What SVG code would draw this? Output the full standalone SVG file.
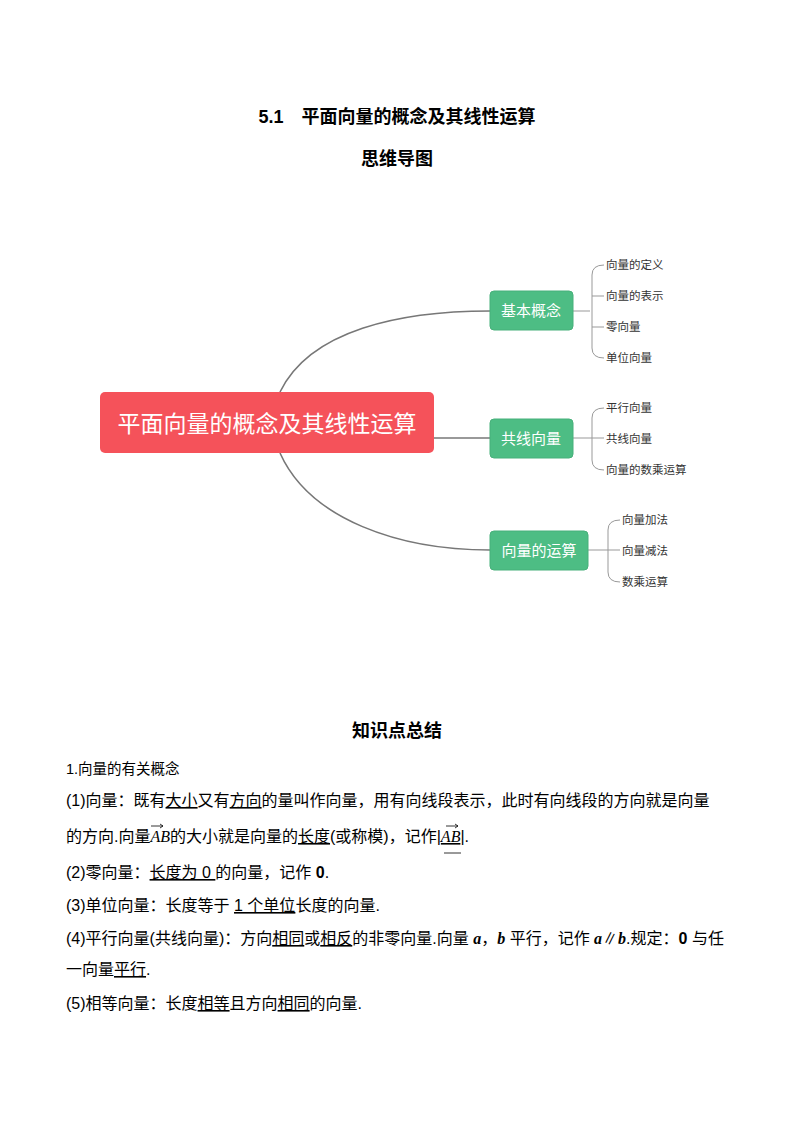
<svg xmlns="http://www.w3.org/2000/svg" width="794" height="1123" viewBox="0 0 794 1123">
<style>
.t{font-family:"Liberation Sans","Noto Sans CJK SC",sans-serif;fill:#000}
.h{font-weight:bold;font-size:18px}
.b{font-size:16px}
.leaf{font-family:"Noto Sans CJK SC",sans-serif;font-size:11.5px;fill:#333}
.g{fill:#4dbd84;stroke:#47b07a}
.gt{font-family:"Noto Sans CJK SC",sans-serif;font-size:15px;fill:#fff;text-anchor:middle}
.c{fill:none;stroke:#777;stroke-width:1.6}
.br{fill:none;stroke:#999;stroke-width:1}
.i{font-family:"Liberation Serif",serif;font-style:italic}
</style>
<rect width="794" height="1123" fill="#fff"/>
<text class="t h" x="397" y="123" text-anchor="middle" font-size="19">5.1　平面向量的概念及其线性运算</text>
<text class="t h" x="397" y="165" text-anchor="middle">思维导图</text>
<g id="connectors">
<path class="c" d="M280,392 C310,330 400,311 490,311"/>
<path class="c" d="M434,438 L490,438"/>
<path class="c" d="M280,453 C310,520 400,550 490,550"/>
<path class="br" d="M572,311 H590 M604,265 Q592,265 592,275 V348 Q592,358 604,358 M592,296 H604 M592,327 H604"/>
<path class="br" d="M572,438 H604 M604,408 Q592,408 592,418 V460 Q592,470 604,470"/>
<path class="br" d="M588,550 H620 M620,520 Q608,520 608,530 V572 Q608,582 620,582"/>
</g>
<g id="root"><rect x="100" y="392" width="334" height="61" rx="5" fill="#f5525a"/>
<text x="267" y="432" font-family="Noto Sans CJK SC,sans-serif" font-size="23" fill="#fff" text-anchor="middle">平面向量的概念及其线性运算</text></g>
<g id="n1"><rect class="g" x="490" y="291" width="83" height="39" rx="4"/><text class="gt" x="531" y="316">基本概念</text></g>
<g id="n2"><rect class="g" x="490" y="419" width="83" height="39" rx="4"/><text class="gt" x="531" y="444">共线向量</text></g>
<g id="n3"><rect class="g" x="490" y="531" width="98" height="39" rx="4"/><text class="gt" x="539" y="556">向量的运算</text></g>
<g id="leaves">
<text class="leaf" x="606" y="269">向量的定义</text>
<text class="leaf" x="606" y="300">向量的表示</text>
<text class="leaf" x="606" y="331">零向量</text>
<text class="leaf" x="606" y="362">单位向量</text>
<text class="leaf" x="606" y="412">平行向量</text>
<text class="leaf" x="606" y="443">共线向量</text>
<text class="leaf" x="606" y="474">向量的数乘运算</text>
<text class="leaf" x="622" y="524">向量加法</text>
<text class="leaf" x="622" y="555">向量减法</text>
<text class="leaf" x="622" y="586">数乘运算</text>
</g>
<text class="t h" x="397" y="737" text-anchor="middle">知识点总结</text>
<g class="t b">
<text x="66" y="774" font-size="14.5">1.向量的有关概念</text>
<text x="66" y="806">(1)向量：既有<tspan text-decoration="underline">大小</tspan>又有<tspan text-decoration="underline">方向</tspan>的量叫作向量，用有向线段表示，此时有向线段的方向就是向量</text>
<text x="66" y="842">的方向.向量<tspan class="i">AB</tspan>的大小就是向量的<tspan text-decoration="underline">长度</tspan>(或称模)，记作|<tspan class="i" text-decoration="underline">AB</tspan>|.</text>
<text x="66" y="878">(2)零向量：<tspan text-decoration="underline">长度为 0 </tspan>的向量，记作 <tspan font-weight="bold">0</tspan>.</text>
<text x="66" y="911">(3)单位向量：长度等于 <tspan text-decoration="underline">1 个单位</tspan>长度的向量.</text>
<text x="66" y="944">(4)平行向量(共线向量)：方向<tspan text-decoration="underline">相同</tspan>或<tspan text-decoration="underline">相反</tspan>的非零向量.向量 <tspan class="i" font-weight="bold">a</tspan>，<tspan class="i" font-weight="bold">b</tspan> 平行，记作 <tspan class="i" font-weight="bold">a</tspan>∥<tspan class="i" font-weight="bold">b</tspan>.规定：<tspan font-weight="bold">0</tspan> 与任</text>
<text x="66" y="975">一向量<tspan text-decoration="underline">平行</tspan>.</text>
<text x="66" y="1009">(5)相等向量：长度<tspan text-decoration="underline">相等</tspan>且方向<tspan text-decoration="underline">相同</tspan>的向量.</text>
</g>
<g stroke="#000" stroke-width="0.8" fill="none">
<path d="M151,826 H163 M160,824 L163,826 L160,828"/>
<path d="M446,826 H458 M455,824 L458,826 L455,828"/>
<path d="M444,853 H461"/>
</g>
</svg>
